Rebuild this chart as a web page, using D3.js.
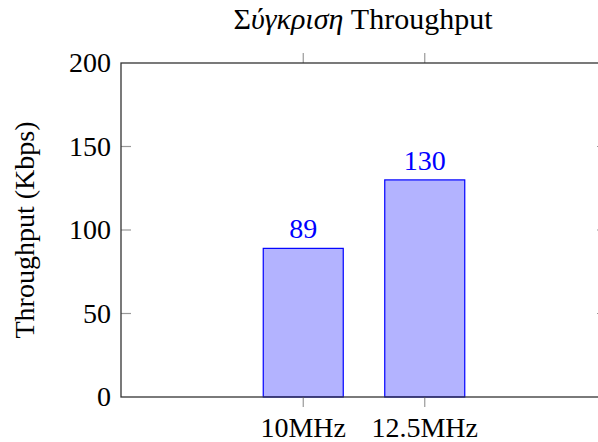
<!DOCTYPE html>
<html>
<head>
<meta charset="utf-8">
<script src="https://cdn.jsdelivr.net/npm/d3@7"></script>
<style>
  body { margin: 0; background: #fff; }
</style>
</head>
<body>
<div id="chart"></div>
<script>
const categories = ['10MHz', '12.5MHz'];
const throughput = [89, 130];
const yTicks = [0, 50, 100, 150, 200];
const titleText = 'Σύγκριση Throughput';
const yLabel = 'Throughput (Kbps)';

const width = 598;
const height = 442;
const margin = { left: 121, top: 63, right: -9, bottom: 45 };

const svg = d3.select('#chart')
  .append('svg')
  .attr('width', width)
  .attr('height', height)
  .attr('font-family', '"Liberation Serif", "Times New Roman", serif');

// category index scale, axis runs from -1.5 to 2.5 like the pgfplots box
const x = d3.scaleLinear()
  .domain([-1.5, categories.length + 0.5])
  .range([margin.left, width - margin.right]);

const y = d3.scaleLinear()
  .domain([0, 200])
  .range([height - margin.bottom, margin.top]);

const x0 = x.range()[0], x1 = x.range()[1];
const y0 = y.range()[0], y1 = y.range()[1];
const tickLen = 10;

// bars
const barW = 80;
svg.append('g')
  .selectAll('rect')
  .data(throughput)
  .enter().append('rect')
    .attr('x', (d, i) => x(i) - barW / 2)
    .attr('y', d => y(d))
    .attr('width', barW)
    .attr('height', d => y(0) - y(d))
    .attr('fill', '#b3b3ff')
    .attr('stroke', '#0000ff')
    .attr('stroke-width', 1.2);

svg.append('g')
  .selectAll('text')
  .data(throughput)
  .enter().append('text')
    .attr('x', (d, i) => x(i))
    .attr('y', d => y(d) - 10)
    .attr('text-anchor', 'middle')
    .attr('font-size', 28)
    .attr('fill', '#0000ff')
    .text(d => d);

// ticks
const ticks = svg.append('g').attr('stroke', '#999').attr('stroke-width', 1.2);
yTicks.forEach(t => {
  if (t === 0 || t === 200) return;
  ticks.append('line').attr('x1', x0).attr('x2', x0 + tickLen).attr('y1', y(t)).attr('y2', y(t));
  ticks.append('line').attr('x1', x1).attr('x2', x1 - tickLen).attr('y1', y(t)).attr('y2', y(t));
});
categories.forEach((c, i) => {
  ticks.append('line').attr('x1', x(i)).attr('x2', x(i)).attr('y1', y0).attr('y2', y0 + tickLen);
  ticks.append('line').attr('x1', x(i)).attr('x2', x(i)).attr('y1', y1).attr('y2', y1 - tickLen);
});

// frame
svg.append('rect')
  .attr('x', x0).attr('y', y1)
  .attr('width', x1 - x0).attr('height', y0 - y1)
  .attr('fill', 'none')
  .attr('stroke', '#333')
  .attr('stroke-width', 1.3);

// tick labels
svg.append('g')
  .selectAll('text')
  .data(yTicks)
  .enter().append('text')
    .attr('x', x0 - 10)
    .attr('y', d => y(d))
    .attr('dy', '0.33em')
    .attr('text-anchor', 'end')
    .attr('font-size', 28)
    .text(d => d);

svg.append('g')
  .selectAll('text')
  .data(categories)
  .enter().append('text')
    .attr('x', (d, i) => x(i))
    .attr('y', y0 + 40)
    .attr('text-anchor', 'middle')
    .attr('font-size', 28)
    .text(d => d);

// title
const title = svg.append('text')
  .attr('x', 363)
  .attr('y', 29)
  .attr('text-anchor', 'middle')
  .attr('font-size', 30);
title.append('tspan').text(titleText.slice(0, 1));
title.append('tspan').attr('font-style', 'italic').text(titleText.slice(1, 8));
title.append('tspan').text(titleText.slice(8));

// y label
svg.append('text')
  .attr('transform', `translate(34,${(y0 + y1) / 2}) rotate(-90)`)
  .attr('text-anchor', 'middle')
  .attr('font-size', 28)
  .text(yLabel);
</script>
</body>
</html>
